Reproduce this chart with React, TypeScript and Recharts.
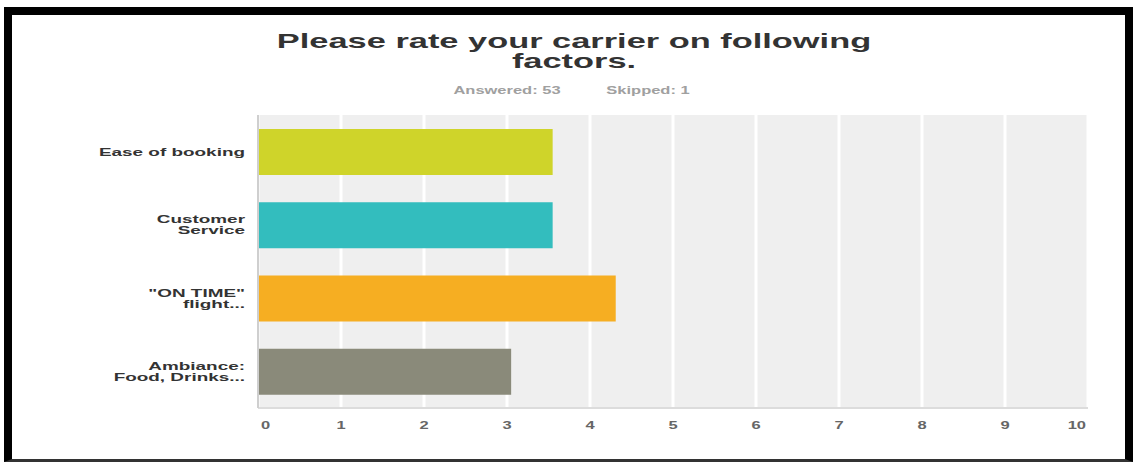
import React from 'react';
import { BarChart, Bar, XAxis, YAxis, CartesianGrid, Cell } from 'recharts';

const categories = ['Ease of booking', 'Customer\nService', '"ON TIME"\nflight...', 'Ambiance:\nFood, Drinks...'];
const averages = [3.55, 3.55, 4.31, 3.05];
const barColors = ['#cfd42a', '#33bdbe', '#f6ae22', '#8a8a7a'];
const xTicks = [0, 1, 2, 3, 4, 5, 6, 7, 8, 9, 10];
const titleLines = ['Please rate your carrier on following', 'factors.'];
const answered = 'Answered: 53';
const skipped = 'Skipped: 1';

const FONT = "Arial, 'Liberation Sans', sans-serif";
// the source picture is stretched sideways, so text gets the same stretch
const STRETCH = 1.72;

const data = categories.map((name, i) => ({ name, value: averages[i] }));

const CategoryTick = (props: any) => {
  const { x, y, payload } = props;
  const lines: string[] = String(payload.value).split('\n');
  const lineH = 11;
  const first = y + 4 - ((lines.length - 1) * lineH) / 2;
  return (
    <g>
      {lines.map((ln, i) => (
        <text
          key={i}
          transform={`translate(${x},${first + i * lineH}) scale(${STRETCH},1)`}
          textAnchor="end"
          fontFamily={FONT}
          fontWeight="bold"
          fontSize={11}
          fill="#333"
        >
          {ln}
        </text>
      ))}
    </g>
  );
};

const ValueTick = (props: any) => {
  const { x, y, payload } = props;
  let anchor: 'start' | 'middle' | 'end' = 'middle';
  let tx = x;
  if (payload.value === 0) { anchor = 'start'; tx = x + 3; }
  if (payload.value === 10) { anchor = 'end'; tx = x - 2; }
  return (
    <text
      transform={`translate(${tx},${y + 9}) scale(1.65,1)`}
      textAnchor={anchor}
      fontFamily={FONT}
      fontWeight="bold"
      fontSize={10}
      fill="#666"
    >
      {payload.value}
    </text>
  );
};

export default function App() {
  return (
    <div style={{ position: 'relative', width: 1133, height: 462, background: '#fff', overflow: 'hidden' }}>
      <style>{'body{margin:0}'}</style>
      <div
        style={{
          position: 'absolute', left: 4, top: 7, width: 1129, height: 455, boxSizing: 'border-box',
          borderLeft: '8px solid #000', borderTop: '8px solid #000', borderRight: '8px solid #000',
          borderBottom: '3px solid #333',
        }}
      />
      <div style={{ position: 'absolute', left: 0, top: 0 }}>
        <BarChart
          width={1133}
          height={462}
          data={data}
          layout="vertical"
          margin={{ top: 115, right: 45, bottom: 24, left: 0 }}
        >
          <CartesianGrid horizontal={false} vertical stroke="#ffffff" strokeWidth={3} fill="#efefef" />
          <XAxis
            type="number"
            domain={[0, 10]}
            ticks={xTicks}
            height={30}
            tickLine={false}
            tickMargin={6}
            axisLine={{ stroke: '#dcdcdc', strokeWidth: 2 }}
            tick={<ValueTick />}
          />
          <YAxis
            type="category"
            dataKey="name"
            width={258}
            tickLine={false}
            tickMargin={7}
            interval={0}
            axisLine={{ stroke: '#cfcfcf', strokeWidth: 2 }}
            tick={<CategoryTick />}
          />
          <Bar dataKey="value" barSize={46} isAnimationActive={false}>
            {data.map((d, i) => (
              <Cell key={d.name} fill={barColors[i]} />
            ))}
          </Bar>
        </BarChart>
      </div>
      <svg width={1133} height={462} style={{ position: 'absolute', left: 0, top: 0, pointerEvents: 'none' }}>
        {titleLines.map((t, i) => (
          <text
            key={t}
            transform={`translate(574,${48 + i * 20}) scale(${STRETCH},1)`}
            textAnchor="middle"
            fontFamily={FONT}
            fontWeight="bold"
            fontSize={20}
            fill="#333"
          >
            {t}
          </text>
        ))}
        <text transform="translate(507,94) scale(1.65,1)" textAnchor="middle" fontFamily={FONT} fontWeight="bold" fontSize={10} fill="#a0a0a0">
          {answered}
        </text>
        <text transform="translate(648,94) scale(1.65,1)" textAnchor="middle" fontFamily={FONT} fontWeight="bold" fontSize={10} fill="#a0a0a0">
          {skipped}
        </text>
      </svg>
    </div>
  );
}
